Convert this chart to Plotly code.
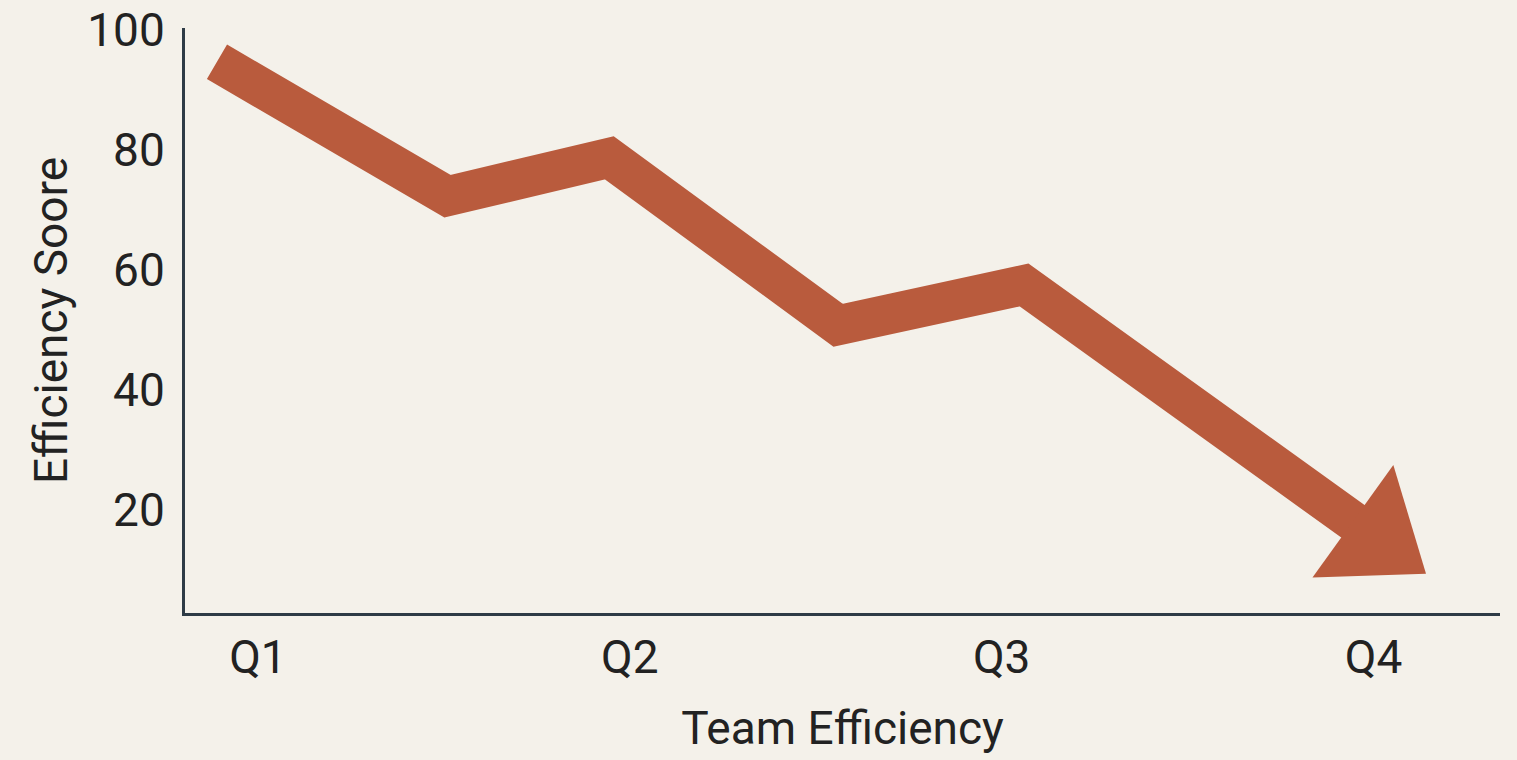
import plotly.graph_objects as go

# Data (x in quarter-index units, Q1=0 ... Q4=3)
quarters = ["Q1", "Q2", "Q3", "Q4"]
quarter_pos = [0, 1, 2, 3]
path_x = [-0.11, 0.51, 0.945, 1.56, 2.06, 3.01]
path_y = [94.7, 72.3, 78.7, 50.8, 57.5, 15.2]
y_ticks = [20, 40, 60, 80, 100]

ARROW = "#B95B3D"
BG = "#F4F1EA"
AXIS = "#2E3B46"
FONT = "Roboto, Arial, sans-serif"

sizes = [0] * (len(path_x) - 1) + [120]

fig = go.Figure()
fig.add_trace(go.Scatter(
    x=path_x, y=path_y, mode="lines+markers",
    line=dict(color=ARROW, width=40, shape="linear"),
    marker=dict(symbol="triangle-up", size=sizes, color=ARROW, opacity=1,
                angleref="previous", line=dict(width=0)),
    hoverinfo="skip", showlegend=False,
))

fig.update_layout(
    width=1517, height=760,
    paper_bgcolor=BG, plot_bgcolor=BG,
    margin=dict(l=185, r=17, t=28, b=147),
    font=dict(family=FONT, color="#222222", size=46),
    xaxis=dict(
        range=[-0.196, 3.34], tickmode="array", tickvals=quarter_pos, ticktext=quarters,
        showgrid=False, zeroline=False, showline=True, linecolor=AXIS, linewidth=3,
        ticks="", ticklabelstandoff=2, tickfont=dict(size=46, family=FONT), automargin=False,
        title=dict(text="Team Efficiency", font=dict(size=46, family=FONT), standoff=29),
    ),
    yaxis=dict(
        range=[2.83, 100.33], tickmode="array", tickvals=y_ticks,
        showgrid=False, zeroline=False, showline=True, linecolor=AXIS, linewidth=3,
        ticks="", ticklabelstandoff=8, tickfont=dict(size=46, family=FONT), automargin=False,
        title=dict(text="Efficiency Soore", font=dict(size=46, family=FONT), standoff=6),
    ),
)

fig.write_html("out.html", config={"displayModeBar": False},
               post_script="document.body.style.margin='0';document.body.style.background='%s';" % BG)
